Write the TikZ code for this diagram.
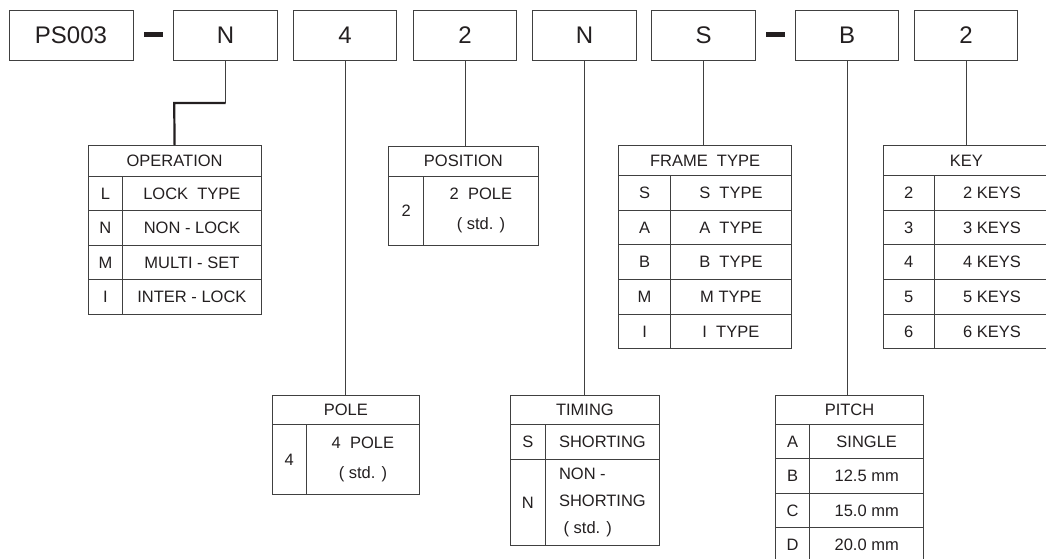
\documentclass[tikz,border=0pt]{standalone}
\usepackage{fontspec}
\setmainfont{Liberation Sans}
\definecolor{inkgray}{HTML}{231F20}
\definecolor{linegray}{HTML}{404040}

\begin{document}
\begin{tikzpicture}[x=1pt, y=-1pt,
  codebox/.style={draw=linegray, line width=0.9pt, inner sep=0pt, minimum width=103.5pt, minimum height=50pt, text=inkgray, font=\fontsize{24}{28}\selectfont},
  dashbar/.style={fill=inkgray, inner sep=0pt, minimum width=19pt, minimum height=4.2pt},
  cell/.style={draw=linegray, line width=0.8pt, inner sep=0pt, anchor=north west, text=inkgray, font=\fontsize{16.5}{30}\selectfont, align=center},
  lead/.style={draw=linegray, line width=0.8pt},
  thicklead/.style={draw=inkgray, line width=2.2pt}]

\useasboundingbox (0,0) rectangle (1046,559);
\clip (0,0) rectangle (1046,559);

% part number boxes
\node[codebox, minimum width=124pt] (base) at (71,35) {PS003};
\node[dashbar] (dasha) at (153.5,34.5) {};
\node[codebox] (opcode) at (225.5,35) {N};
\node[codebox] (polecode) at (345,35) {4};
\node[codebox] (poscode) at (465,35) {2};
\node[codebox] (timcode) at (584.5,35) {N};
\node[codebox] (frmcode) at (703.5,35) {S};
\node[dashbar] (dashb) at (775.5,34.5) {};
\node[codebox] (pitcode) at (847,35) {B};
\node[codebox] (keycode) at (966,35) {2};

% operation
\node[cell, minimum width=173pt, minimum height=30.7pt] (ophead) at (87.7,145) {OPERATION};
\foreach \k/\d [count=\i from 0] in {L/LOCK~~TYPE, N/NON - LOCK, M/MULTI - SET, I/INTER - LOCK} {
  \node[cell, minimum width=34.6pt, minimum height=34.5pt] (opkey\k) at (87.7,{175.7+34.5*\i}) {\k};
  \node[cell, minimum width=138.4pt, minimum height=34.5pt] (opdesc\k) at (122.3,{175.7+34.5*\i}) {\d};
}

% position
\node[cell, minimum width=149.4pt, minimum height=30pt] (poshead) at (388.3,145.7) {POSITION};
\node[cell, minimum width=35pt, minimum height=69.3pt] (poskey2) at (388.3,175.7) {2};
\node[cell, minimum width=114.4pt, minimum height=69.3pt] (posdesc2) at (423.3,175.7) {2~~POLE\\( std. )};

% frame type
\node[cell, minimum width=172.7pt, minimum height=30pt] (frmhead) at (618.3,145) {FRAME~~TYPE};
\foreach \k/\d [count=\i from 0] in {S/S~~TYPE, A/A~~TYPE, B/B~~TYPE, M/M TYPE, I/I~~TYPE} {
  \node[cell, minimum width=51.7pt, minimum height=34.66pt] (frmkey\k) at (618.3,{175+34.66*\i}) {\k};
  \node[cell, minimum width=121pt, minimum height=34.66pt] (frmdesc\k) at (670,{175+34.66*\i}) {\d};
}

% key
\node[cell, minimum width=166.6pt, minimum height=30pt] (keyhead) at (882.7,145) {KEY};
\foreach \k [count=\i from 0] in {2,...,6} {
  \node[cell, minimum width=51.3pt, minimum height=34.66pt] (keykey\k) at (882.7,{175+34.66*\i}) {\k};
  \node[cell, minimum width=115.3pt, minimum height=34.66pt] (keydesc\k) at (934,{175+34.66*\i}) {\k\ KEYS};
}

% pole
\node[cell, minimum width=147.6pt, minimum height=29pt] (polehead) at (271.7,395) {POLE};
\node[cell, minimum width=34pt, minimum height=70.3pt] (polekey4) at (271.7,424) {4};
\node[cell, minimum width=113.6pt, minimum height=70.3pt] (poledesc4) at (305.7,424) {4~~POLE\\( std. )};

% timing
\node[cell, minimum width=149pt, minimum height=29pt] (timhead) at (510,395) {TIMING};
\node[cell, minimum width=35pt, minimum height=35.3pt] (timkeyS) at (510,424) {S};
\node[cell, minimum width=114pt, minimum height=35.3pt] (timdescS) at (545,424) {SHORTING};
\node[cell, minimum width=35pt, minimum height=85.7pt] (timkeyN) at (510,459.3) {N};
\node[cell, minimum width=114pt, minimum height=85.7pt, align=left, font=\fontsize{16.5}{27}\selectfont] (timdescN) at (545,459.3) {NON -\\SHORTING\\\ ( std. )};

% pitch
\node[cell, minimum width=148.3pt, minimum height=29pt] (pithead) at (775,395) {PITCH};
\foreach \k/\d [count=\i from 0] in {A/SINGLE, B/12.5 mm, C/15.0 mm, D/20.0 mm} {
  \node[cell, minimum width=34.3pt, minimum height=34.4pt] (pitkey\k) at (775,{424+34.4*\i}) {\k};
  \node[cell, minimum width=114pt, minimum height=34.4pt] (pitdesc\k) at (809.3,{424+34.4*\i}) {\d};
}

% leads
\coordinate (opbend) at (174.2,103);
\draw[lead] (opcode.south) -- (opcode.south |- opbend);
\draw[thicklead] (opcode.south |- opbend) -- (opbend) -- (ophead.north);
\draw[lead] (polecode.south) -- (polecode.south |- polehead.north);
\draw[lead] (poscode.south) -- (poscode.south |- poshead.north);
\draw[lead] (timcode.south) -- (timcode.south |- timhead.north);
\draw[lead] (frmcode.south) -- (frmcode.south |- frmhead.north);
\draw[lead] (pitcode.south) -- (pitcode.south |- pithead.north);
\draw[lead] (keycode.south) -- (keycode.south |- keyhead.north);
\end{tikzpicture}
\end{document}
